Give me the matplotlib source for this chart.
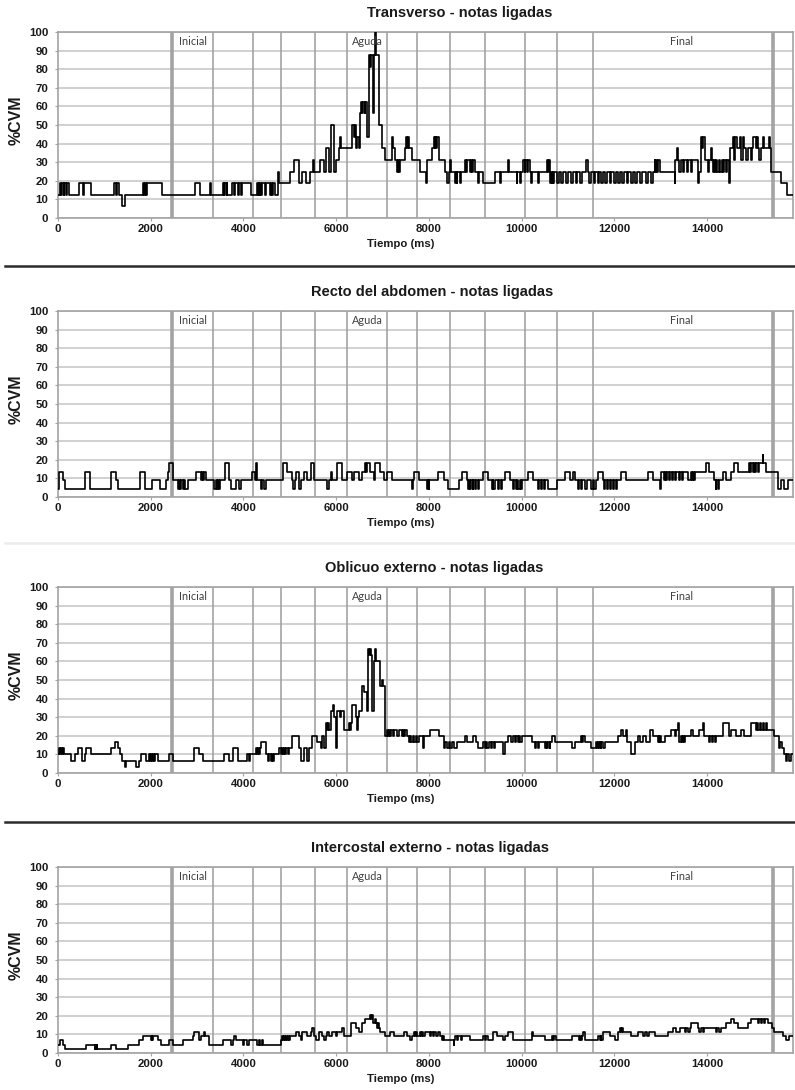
import matplotlib
matplotlib.use("Agg")
from matplotlib import pyplot as plt
from matplotlib.lines import Line2D

plt.rcParams['font.family'] = ['Liberation Sans', 'DejaVu Sans']

W, H = 795, 1090
XMAX = 15850

# phase markers (ms)
marks_thin = [3350, 4200, 4800, 5540, 6235, 7100, 7735, 8455, 9215, 10070, 10760, 11540]
marks_thick = [2455, 15410]
phase_names = ["Inicial", "Aguda", "Final"]
phase_x = [2620, 6330, 13190]

# step signals: (time ms, level); value = level * quantum
tra_q = 6.25
tra = [(0, 2), (40, 3), (70, 2), (90, 3), (120, 2), (140, 3), (180, 2), (200, 3), (230, 2),
       (445, 3), (540, 2), (570, 3), (720, 2),
       (1205, 3), (1250, 2), (1270, 3), (1310, 2), (1385, 1), (1455, 2),
       (1830, 3), (1850, 2), (1870, 3), (1890, 2), (1910, 3), (2240, 2),
       (2955, 3), (3070, 2), (3280, 3), (3310, 2),
       (3550, 3), (3570, 2), (3590, 3), (3620, 2), (3635, 3), (3655, 2),
       (3760, 3), (3790, 2), (3810, 3), (3880, 2), (3900, 3), (3950, 2), (3970, 3), (4170, 2),
       (4290, 3), (4310, 2), (4330, 3), (4345, 2), (4360, 3), (4380, 2), (4400, 3), (4470, 2),
       (4490, 3), (4570, 2), (4590, 3), (4610, 2), (4630, 3), (4690, 2),
       (4750, 4), (4765, 3), (5000, 4), (5090, 5), (5200, 3), (5270, 4), (5340, 3), (5430, 4),
       (5500, 5), (5520, 4), (5660, 5), (5735, 4), (5770, 6), (5840, 4), (5880, 8), (5950, 4),
       (6000, 5), (6060, 6), (6090, 7), (6110, 6), (6340, 8), (6380, 7), (6400, 8), (6420, 6),
       (6450, 7), (6490, 6), (6520, 9), (6540, 10), (6560, 9), (6580, 10), (6610, 9), (6630, 10),
       (6665, 7), (6700, 11), (6710, 14), (6730, 13), (6750, 14), (6795, 9), (6815, 14), (6840, 16),
       (6865, 14), (6915, 8), (6990, 6), (7060, 5), (7200, 7), (7215, 6), (7260, 5), (7310, 4),
       (7330, 5), (7350, 4), (7380, 5), (7490, 6), (7510, 7), (7530, 6), (7550, 7), (7570, 6),
       (7630, 5), (7810, 4),
       (7940, 3), (7960, 5), (8060, 6), (8100, 7), (8120, 6), (8140, 7), (8160, 6), (8180, 7),
       (8207, 5), (8350, 4), (8386, 3), (8422, 4), (8457, 5), (8475, 4), (8565, 3), (8580, 4),
       (8601, 3), (8615, 4), (8672, 3), (8690, 4), (8780, 5), (8800, 4), (8820, 5), (8887, 4),
       (8900, 5), (8920, 4), (8940, 5), (8995, 4), (9067, 3), (9080, 4), (9174, 3), (9425, 4),
       (9532, 3), (9550, 4), (9700, 5), (9725, 4), (9891, 3), (9905, 4), (9962, 3), (9975, 4),
       (10034, 5), (10060, 4), (10080, 5), (10110, 4), (10130, 5), (10177, 4), (10200, 3), (10215, 4),
       (10357, 3), (10375, 4), (10536, 5), (10560, 4), (10580, 5), (10608, 4), (10620, 3), (10635, 4),
       (10650, 3), (10665, 4), (10680, 3), (10700, 4),
       (10750, 3), (10800, 4), (10850, 3), (10880, 4), (10950, 3), (10990, 4), (11060, 3), (11100, 4),
       (11160, 3), (11190, 4), (11260, 3), (11300, 4), (11396, 5), (11420, 4), (11460, 3), (11490, 4),
       (11550, 3), (11580, 4), (11640, 3), (11670, 4), (11720, 3), (11760, 4), (11800, 3), (11840, 4),
       (11900, 3), (11930, 4), (11990, 3), (12030, 4), (12080, 3), (12110, 4), (12170, 3), (12200, 4),
       (12260, 3), (12300, 4), (12350, 3), (12390, 4), (12450, 3), (12490, 4), (12560, 3), (12600, 4),
       (12680, 3), (12720, 4), (12790, 3), (12830, 4), (12865, 5), (12880, 4), (12900, 5), (12920, 4),
       (12940, 5), (12973, 4),
       (13295, 3), (13310, 5), (13340, 6), (13367, 5), (13400, 4), (13440, 5), (13470, 4), (13500, 5),
       (13560, 4), (13580, 5), (13650, 4), (13680, 5), (13797, 3), (13815, 4), (13868, 7), (13890, 6),
       (13910, 7), (13950, 5), (14020, 4), (14040, 5), (14080, 6), (14100, 5), (14120, 4), (14140, 5),
       (14170, 4), (14190, 5), (14220, 4), (14250, 5), (14280, 4), (14310, 5), (14340, 4), (14370, 5),
       (14400, 4), (14430, 5), (14478, 3), (14500, 6), (14549, 7), (14570, 5), (14600, 7), (14640, 6),
       (14700, 7), (14730, 5), (14764, 7), (14790, 6), (14840, 5), (14870, 6), (14943, 5), (14960, 6),
       (14979, 7), (15051, 6), (15070, 7), (15090, 6), (15122, 5), (15150, 6), (15200, 7), (15230, 6),
       (15337, 7), (15355, 6), (15380, 4), (15588, 3), (15731, 2)]

rec_q = 100 / 22
rec = [(0, 1), (22, 3), (108, 2), (144, 1), (575, 3), (682, 1), (1148, 3), (1255, 2), (1291, 1),
       (1771, 3), (1879, 1), (2022, 2), (2209, 1), (2330, 2), (2366, 3), (2402, 4), (2474, 2),
       (2581, 1), (2600, 2), (2630, 1), (2650, 2), (2690, 1), (2720, 2), (2740, 1), (2796, 2),
       (2975, 3), (3083, 2), (3100, 3), (3120, 2), (3140, 3), (3190, 2), (3370, 1), (3400, 2),
       (3420, 1), (3450, 2), (3470, 1), (3500, 2), (3606, 4), (3678, 2), (3728, 1), (3836, 2),
       (3893, 1), (3943, 2), (4194, 3), (4240, 2), (4270, 4), (4301, 2), (4373, 1), (4409, 2),
       (4440, 1), (4481, 2), (4853, 4), (4946, 3), (5054, 2), (5075, 1), (5111, 2), (5126, 3),
       (5197, 1), (5233, 2), (5305, 3), (5376, 2), (5448, 4), (5520, 2), (5806, 1), (5840, 2),
       (5878, 3), (5914, 2), (6022, 4), (6129, 2), (6237, 3), (6344, 2), (6380, 3), (6488, 2),
       (6559, 3), (6631, 4), (6650, 3), (6670, 4), (6738, 3), (6810, 2), (6846, 4), (6953, 3),
       (7025, 2), (7097, 3), (7204, 2),
       (7634, 1), (7650, 2), (7670, 3), (7777, 2), (7956, 1), (7970, 2), (7990, 1), (8010, 2),
       (8193, 3), (8315, 2), (8408, 1), (8637, 2), (8709, 3), (8816, 2), (8852, 1), (8870, 2),
       (8890, 1), (8910, 2), (8940, 1), (8960, 2), (9000, 1), (9020, 2), (9060, 1), (9080, 2),
       (9175, 3), (9282, 2), (9354, 1), (9370, 2), (9390, 1), (9425, 2), (9497, 1), (9520, 2),
       (9560, 1), (9580, 2), (9640, 3), (9748, 2), (9820, 1), (9840, 2), (9870, 1), (9890, 2),
       (9927, 1), (9963, 2), (9990, 1), (10010, 2), (10142, 3), (10250, 2), (10357, 1), (10380, 2),
       (10420, 1), (10440, 2), (10480, 1), (10500, 2), (10572, 1), (10751, 2), (10931, 3), (11038, 2),
       (11100, 3), (11146, 2), (11217, 1), (11240, 2), (11280, 1), (11300, 2), (11360, 1), (11400, 2),
       (11504, 1), (11540, 2), (11560, 1), (11611, 2), (11647, 3), (11755, 2), (11780, 1), (11800, 2),
       (11830, 1), (11860, 2), (11900, 1), (11920, 2), (11960, 1), (11980, 2), (12030, 1), (12050, 2),
       (12149, 3), (12256, 2), (12722, 3), (12830, 2), (12973, 1), (13000, 2), (13009, 3), (13060, 2),
       (13080, 3), (13120, 2), (13140, 3), (13180, 2), (13200, 3), (13240, 2), (13260, 3), (13300, 2),
       (13320, 3), (13400, 2), (13420, 3), (13460, 2), (13480, 3), (13582, 2), (13654, 3), (13680, 2),
       (13700, 3), (13720, 2), (13740, 3), (13976, 4), (14048, 3), (14155, 2), (14180, 1), (14200, 2),
       (14240, 1), (14260, 2), (14335, 3), (14406, 2), (14514, 3), (14585, 4), (14657, 3), (14908, 4),
       (14930, 3), (14950, 4), (14980, 3), (15000, 4), (15030, 3), (15050, 4), (15090, 3), (15123, 4),
       (15195, 5), (15210, 4), (15266, 3), (15518, 1), (15590, 2), (15662, 1), (15734, 2)]

obl_q = 10 / 3
obl = [(0, 3), (20, 4), (40, 3), (60, 4), (80, 3), (100, 4), (130, 3), (288, 2), (360, 3), (431, 4),
       (524, 2), (575, 3), (610, 4), (718, 3), (1148, 4), (1220, 5), (1291, 4), (1327, 3), (1384, 2),
       (1435, 1), (1456, 2), (1685, 1), (1757, 2), (1793, 3), (1900, 2), (1972, 3), (1990, 2),
       (2010, 3), (2030, 2), (2050, 3), (2070, 2), (2090, 3), (2151, 2), (2402, 3), (2474, 2),
       (2940, 4), (3047, 3), (3119, 2), (3585, 3), (3692, 2), (3764, 4), (3871, 2), (4086, 3),
       (4120, 2), (4140, 3), (4265, 4), (4290, 3), (4310, 4), (4330, 3), (4350, 4), (4373, 5),
       (4480, 3), (4520, 2), (4550, 3), (4588, 2), (4610, 3), (4630, 2), (4660, 3), (4767, 4),
       (4800, 3), (4820, 4), (4850, 3), (4870, 4), (4900, 3), (4920, 4), (4960, 3), (4980, 4),
       (5054, 6), (5197, 4), (5233, 2), (5305, 4), (5376, 2), (5412, 4), (5484, 6), (5591, 5),
       (5663, 4), (5700, 6), (5740, 4), (5771, 8), (5800, 7), (5820, 8), (5850, 7), (5878, 10),
       (5920, 11), (5950, 9), (5986, 4), (6022, 10), (6080, 9), (6110, 10), (6165, 7), (6272, 8),
       (6290, 7), (6310, 8), (6344, 11), (6416, 9), (6440, 7), (6460, 9), (6487, 10), (6559, 14),
       (6590, 13), (6660, 10), (6680, 20), (6700, 19), (6720, 20), (6740, 19), (6780, 10), (6810, 18),
       (6835, 20), (6860, 18), (6950, 14), (6990, 15), (7010, 14), (7060, 6), (7100, 7), (7120, 6),
       (7140, 7), (7160, 6), (7180, 7), (7230, 6), (7250, 7), (7300, 6), (7347, 7),
       (7419, 6), (7440, 7), (7470, 6), (7490, 7), (7520, 6), (7562, 5), (7590, 6), (7620, 5),
       (7650, 6), (7680, 5), (7710, 6), (7740, 5), (7777, 6), (7870, 4), (7900, 6), (8028, 7),
       (8207, 6), (8315, 4), (8350, 5), (8380, 4), (8422, 5), (8460, 4), (8500, 5), (8540, 4),
       (8601, 5), (8780, 6), (8830, 5), (8960, 6), (9020, 5), (9067, 4), (9175, 5), (9200, 4),
       (9230, 5), (9260, 4), (9300, 5), (9330, 4), (9360, 5), (9400, 4), (9430, 5), (9605, 3),
       (9640, 5), (9712, 6), (9760, 5), (9820, 6), (9850, 5), (9880, 6), (9910, 5), (9940, 6),
       (9970, 5), (10000, 6), (10213, 5), (10285, 4), (10310, 5), (10350, 4), (10370, 5), (10500, 4),
       (10520, 5), (10540, 4), (10560, 5), (10600, 4), (10620, 5), (10644, 6), (10716, 5), (11074, 4),
       (11146, 5), (11289, 6), (11310, 5), (11330, 6), (11360, 5), (11504, 4), (11600, 5), (11620, 4),
       (11640, 5), (11660, 4), (11680, 5), (11700, 4), (11720, 5), (11750, 4), (11790, 5), (12077, 6),
       (12149, 7), (12190, 6), (12256, 7), (12280, 5), (12364, 3), (12436, 5), (12500, 6), (12560, 5),
       (12620, 6), (12680, 5), (12758, 7), (12830, 6), (12937, 5), (12950, 6), (12970, 5), (12990, 6),
       (13010, 5), (13080, 6), (13223, 7), (13296, 6), (13330, 7), (13367, 8), (13390, 5), (13439, 6),
       (13460, 5), (13480, 6), (13500, 5), (13520, 6), (13654, 7), (13690, 6), (13833, 7), (13905, 8),
       (13941, 6), (14048, 5), (14070, 6), (14100, 5), (14130, 6), (14160, 5), (14190, 6), (14335, 8),
       (14478, 6), (14514, 7), (14622, 6), (14729, 7), (14801, 6), (14944, 8), (15051, 7), (15080, 8),
       (15100, 7), (15130, 8), (15159, 7), (15200, 8), (15230, 7), (15260, 8), (15290, 7), (15446, 6),
       (15554, 4), (15580, 5), (15610, 4), (15662, 3), (15698, 2), (15730, 3), (15769, 2), (15800, 3)]

ice_q = 100 / 44
ice = [(0, 2), (37, 3), (109, 2), (145, 1), (610, 2), (790, 1), (805, 2), (820, 1), (835, 2),
       (850, 1), (1148, 2), (1255, 1), (1506, 2), (1757, 3), (1829, 4), (2008, 3), (2020, 4),
       (2030, 3), (2044, 4), (2151, 3), (2223, 2), (2402, 3), (2474, 2), (2689, 3), (2904, 4),
       (2940, 5), (3047, 3), (3083, 4), (3154, 5), (3170, 4), (3262, 2), (3549, 3), (3728, 2),
       (3764, 3), (3800, 4), (3836, 3), (3979, 2), (4015, 3), (4086, 2), (4122, 3), (4301, 2),
       (4337, 3), (4360, 2), (4409, 3), (4430, 2), (4803, 3), (4839, 4), (4860, 3), (4880, 4),
       (4900, 3), (4920, 4), (4940, 3), (4960, 4), (4980, 3), (5000, 4), (5126, 5), (5197, 4),
       (5233, 3), (5270, 5), (5376, 4), (5448, 5), (5484, 6), (5520, 4), (5556, 3), (5627, 5),
       (5699, 4), (5735, 3), (5771, 4), (5800, 5), (5842, 4), (5914, 5), (5986, 4), (6022, 5),
       (6129, 6), (6165, 4), (6308, 7), (6416, 6), (6488, 5), (6559, 7), (6631, 8), (6720, 9),
       (6750, 8), (6780, 9), (6800, 7), (6830, 8), (6850, 7), (6881, 6), (6910, 7), (6930, 6),
       (6953, 5), (7061, 4), (7168, 5), (7240, 4),
       (7454, 5), (7526, 4), (7598, 3), (7640, 4), (7670, 5), (7700, 4), (7720, 5), (7741, 4),
       (7813, 5), (7830, 4), (7850, 5), (7870, 4), (7920, 5), (8028, 4), (8050, 5), (8080, 4),
       (8100, 5), (8150, 4), (8200, 5), (8243, 4), (8280, 3), (8300, 4), (8315, 3), (8530, 2),
       (8550, 3), (8565, 4), (8600, 3), (8630, 4), (8680, 3), (8710, 4), (8888, 3), (9175, 4),
       (9200, 3), (9240, 4), (9270, 3), (9390, 5), (9461, 4), (9605, 3), (9640, 4), (9712, 5),
       (9820, 3), (10214, 5), (10250, 4), (10500, 3), (10644, 4), (10670, 3), (10700, 4), (10730, 3),
       (11074, 4), (11230, 3), (11250, 4), (11270, 3), (11290, 4), (11325, 5), (11360, 3), (11647, 4),
       (11680, 3), (11700, 4), (11720, 3), (11755, 5), (11898, 4), (12006, 3), (12077, 5), (12113, 6),
       (12150, 5), (12170, 6), (12185, 5), (12364, 4), (12507, 5), (12615, 4), (12650, 5), (12700, 4),
       (12750, 5), (12866, 4), (13152, 5), (13260, 6), (13332, 5), (13403, 6), (13511, 5), (13540, 6),
       (13580, 5), (13620, 6), (13654, 7), (13797, 6), (13830, 5), (13860, 6), (13900, 5), (13941, 6),
       (14191, 5), (14220, 6), (14250, 5), (14299, 6), (14406, 7), (14514, 8), (14585, 7), (14657, 6),
       (14872, 7), (14944, 8), (15087, 7), (15110, 8), (15150, 7), (15180, 8), (15220, 7), (15250, 8),
       (15302, 7), (15400, 6), (15446, 5), (15625, 4), (15698, 3), (15769, 4)]

# (data, quantum, title, axes top px, title x px)
panels = [(tra, tra_q, "Transverso - notas ligadas", 32, 460),
          (rec, rec_q, "Recto del abdomen - notas ligadas", 311, 432),
          (obl, obl_q, "Oblicuo externo - notas ligadas", 587, 434),
          (ice, ice_q, "Intercostal externo - notas ligadas", 867, 430)]

GRID = '#a3a3a3'
fig = plt.figure(figsize=(W / 100, H / 100), dpi=100)

for data, q, title, top, tx in panels:
    ax = fig.add_axes([58 / W, 1 - (top + 186) / H, 735 / W, 186 / H])
    data = sorted(data)
    t = [p[0] for p in data] + [XMAX]
    v = [p[1] * q for p in data] + [data[-1][1] * q]
    ax.step(t, v, where='post', color='black', lw=1.2, zorder=4)
    for x in marks_thin:
        ax.axvline(x, color=GRID, lw=1.2, zorder=2)
    for x in marks_thick:
        ax.axvline(x, color=GRID, lw=2.6, zorder=2)
    for name, x in zip(phase_names, phase_x):
        ax.text(x, 95, name, family=['Lato', 'DejaVu Sans'], fontsize=7.8,
                color='#404040', ha='left', va='center', zorder=5)
    ax.set_xlim(0, XMAX)
    ax.set_ylim(0, 100)
    ax.set_xticks(range(0, 14001, 2000))
    ax.set_yticks(range(0, 101, 10))
    ax.yaxis.grid(True, color='#c4c4c4', lw=1.1, zorder=1)
    ax.set_axisbelow(True)
    for s in ax.spines.values():
        s.set_color(GRID)
        s.set_linewidth(1.2)
    ax.tick_params(axis='x', length=2.5, pad=2, color=GRID, labelsize=8.2)
    ax.tick_params(axis='y', length=2.5, pad=4.5, color=GRID, labelsize=8.2)
    for lbl in ax.get_xticklabels() + ax.get_yticklabels():
        lbl.set_fontweight('bold')
        lbl.set_color('#1a1a1a')

    fig.text(tx / W, 1 - (top - 19) / H, title, ha='center', va='center',
             fontsize=10.5, fontweight='bold', color='#1a1a1a')
    fig.text(401 / W, 1 - (top + 212) / H, "Tiempo (ms)", ha='center', va='center',
             fontsize=8.2, fontweight='bold', color='#1a1a1a')
    fig.text(16 / W, 1 - (top + 88) / H, "%CVM", ha='center', va='center', rotation=90,
             fontsize=11.5, fontweight='bold', color='#1a1a1a')

# separators between the panels
for y, c in [(266, '#2b2b2b'), (543, '#ececec'), (822, '#2b2b2b')]:
    fig.add_artist(Line2D([0.006, 1], [1 - y / H] * 2, color=c, lw=1.8))

fig.savefig("out.png", dpi=100)
